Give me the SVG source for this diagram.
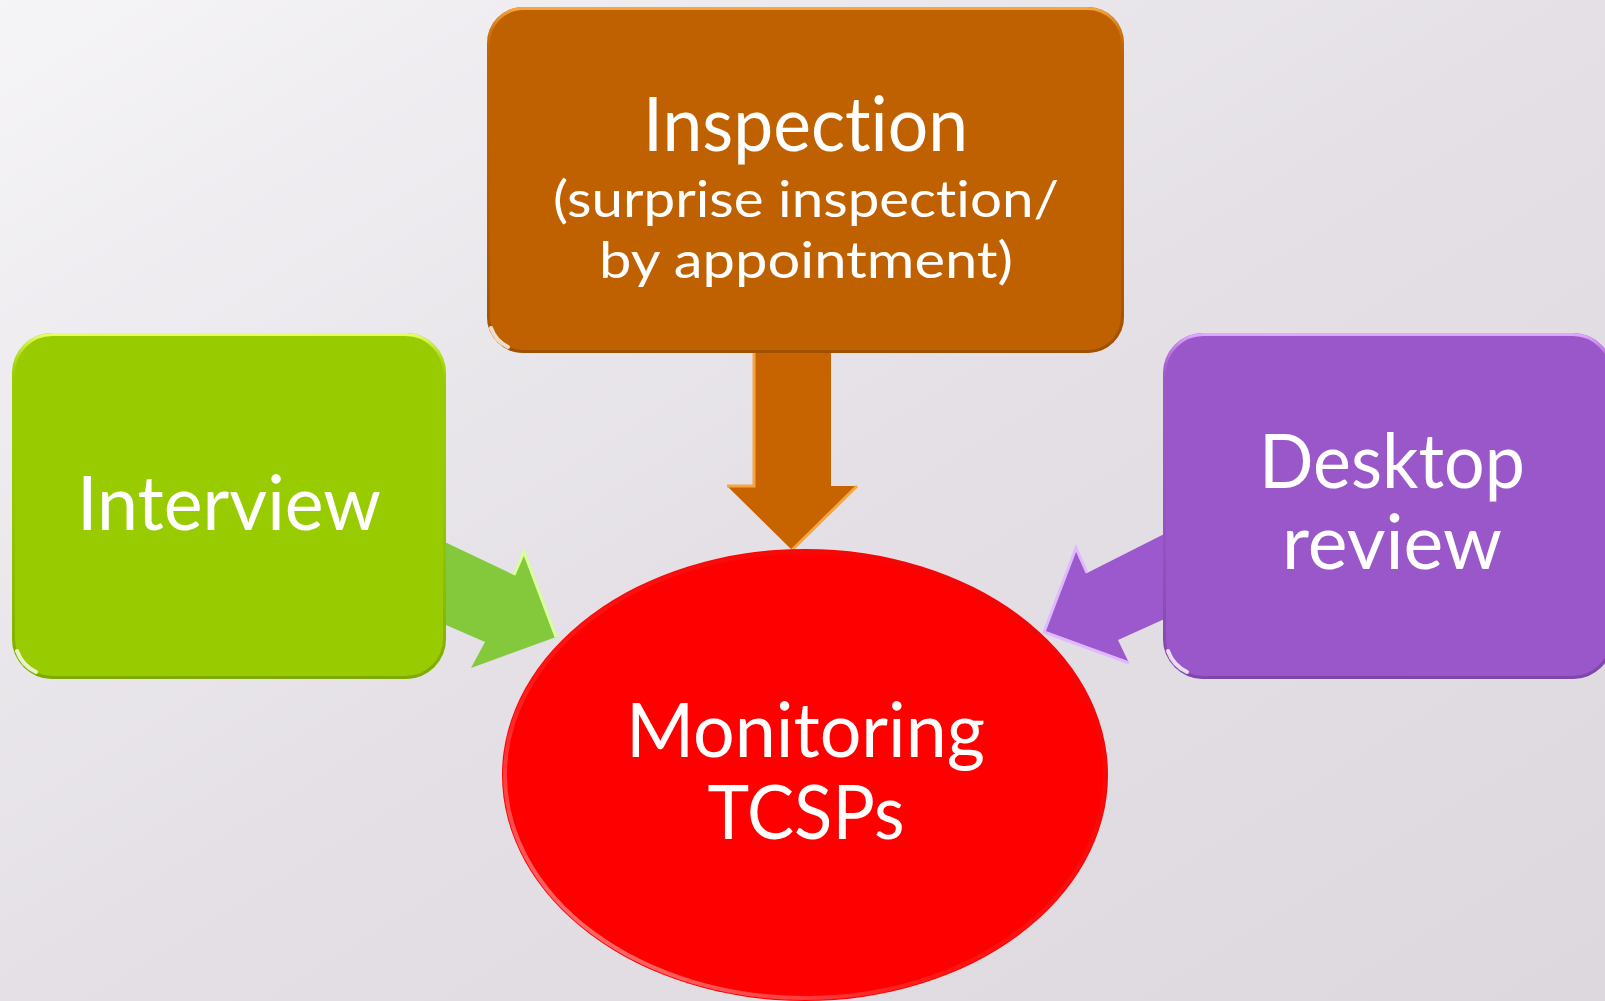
<svg xmlns="http://www.w3.org/2000/svg" width="1605" height="1001" viewBox="0 0 1605 1001">
  <defs>
    <linearGradient id="bg" x1="0" y1="0" x2="1" y2="1">
      <stop offset="0" stop-color="#f5f4f6"/>
      <stop offset="0.5" stop-color="#e4e0e6"/>
      <stop offset="1" stop-color="#dcd8de"/>
    </linearGradient>
    <linearGradient id="rimOrange" x1="0" y1="0" x2="0" y2="1">
      <stop offset="0" stop-color="#f5a640"/>
      <stop offset="0.15" stop-color="#bf6100" stop-opacity="0"/>
      <stop offset="1" stop-color="#8a4500" stop-opacity="0.6"/>
    </linearGradient>
    <linearGradient id="rimGreen" x1="0" y1="0" x2="0" y2="1">
      <stop offset="0" stop-color="#e6ff66"/>
      <stop offset="0.15" stop-color="#99cc00" stop-opacity="0"/>
      <stop offset="1" stop-color="#6d9400" stop-opacity="0.6"/>
    </linearGradient>
    <linearGradient id="rimPurple" x1="0" y1="0" x2="0" y2="1">
      <stop offset="0" stop-color="#e2a8ff"/>
      <stop offset="0.15" stop-color="#9a57c9" stop-opacity="0"/>
      <stop offset="1" stop-color="#6e3a96" stop-opacity="0.6"/>
    </linearGradient>
    <linearGradient id="rimRed" x1="0" y1="1" x2="1" y2="0">
      <stop offset="0" stop-color="#ffb0b0"/>
      <stop offset="0.4" stop-color="#ff4040" stop-opacity="0.3"/>
      <stop offset="1" stop-color="#cc0000" stop-opacity="0.4"/>
    </linearGradient>
  </defs>
  <style>
    .lbl { font-family: "Lato", "Noto Sans", "DejaVu Sans", sans-serif; fill: #ffffff; text-anchor: middle; font-variant-ligatures: none; }
    .big { font-size: 76px; }
    .small { font-size: 51px; }
    .hl { fill: none; stroke-width: 3; }
    .glint { fill: none; stroke: #ffffff; stroke-width: 4; stroke-linecap: round; opacity: 0.8; }
  </style>

  <rect x="0" y="0" width="1605" height="1001" fill="url(#bg)"/>

  <g id="connectors">
    <polygon id="arrow-inspection" points="754,345 831,345 831,486 857,486 792,550 727,486 754,486" fill="#c86400"/>
    <path d="M754,350 L754,486 L727,486 M857,486 L792,550" fill="none" stroke="#f5a640" stroke-width="3"/>
    <polygon id="arrow-interview" points="430,535 514,575 524,552 556,637 471,668 485,642 430,618" fill="#84c83c"/>
    <path d="M514,575 L524,552 L556,637" fill="none" stroke="#d8ff9a" stroke-width="3"/>
    <polygon id="arrow-desktop" points="1180,526 1087,573 1076,548 1044,632 1129,663 1118,640 1180,612" fill="#9b59cd"/>
    <path d="M1087,573 L1076,548 L1044,632 L1129,663" fill="none" stroke="#e0b8ff" stroke-width="3"/>
  </g>

  <g id="node-inspection">
    <rect x="487" y="7" width="637" height="346" rx="36" fill="#bf6100"/>
    <rect x="488.5" y="8.5" width="634" height="343" rx="35" class="hl" stroke="url(#rimOrange)"/>
    <path class="glint" d="M491,328 A33,33 0 0 0 508,347"/>
    <text class="lbl big" x="805.5" y="151" textLength="325" lengthAdjust="spacingAndGlyphs">Inspection</text>
    <text class="lbl small" x="806" y="217" textLength="506" lengthAdjust="spacingAndGlyphs">(surprise inspection/</text>
    <text class="lbl small" x="806" y="278" textLength="414" lengthAdjust="spacingAndGlyphs">by appointment)</text>
  </g>

  <g id="node-interview">
    <rect x="12" y="333" width="434" height="346" rx="40" fill="#99cc00"/>
    <rect x="13.5" y="334.5" width="431" height="343" rx="39" class="hl" stroke="url(#rimGreen)"/>
    <path class="glint" d="M17,651 A37,37 0 0 0 36,672"/>
    <text class="lbl big" x="229" y="530" textLength="304" lengthAdjust="spacingAndGlyphs">Interview</text>
  </g>

  <g id="node-desktop">
    <rect x="1163" y="333" width="450" height="346" rx="40" fill="#9a57c9"/>
    <rect x="1164.5" y="334.5" width="447" height="343" rx="39" class="hl" stroke="url(#rimPurple)"/>
    <path class="glint" d="M1168,651 A37,37 0 0 0 1187,672"/>
    <text class="lbl big" x="1392" y="488" textLength="266" lengthAdjust="spacingAndGlyphs">Desktop</text>
    <text class="lbl big" x="1392" y="569" textLength="220" lengthAdjust="spacingAndGlyphs">review</text>
  </g>

  <g id="node-monitoring">
    <ellipse cx="805" cy="775" rx="303" ry="226" fill="#ff0000"/>
    <ellipse cx="805" cy="775" rx="300" ry="223" fill="none" stroke="url(#rimRed)" stroke-width="4"/>
    <text class="lbl big" x="805.5" y="757" textLength="359" lengthAdjust="spacingAndGlyphs">Monitoring</text>
    <text class="lbl big" x="806" y="839" textLength="197" lengthAdjust="spacingAndGlyphs">TCSPs</text>
  </g>
</svg>
